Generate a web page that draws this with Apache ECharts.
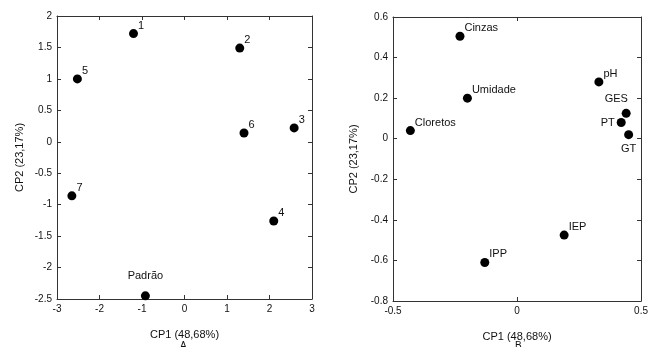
<!DOCTYPE html>
<html>
<head>
<meta charset="utf-8">
<script src="https://cdn.jsdelivr.net/npm/echarts@6/dist/echarts.min.js"></script>
<style>
  html, body { margin: 0; padding: 0; background: #fff; }
  #chart { width: 651px; height: 347px; }
</style>
</head>
<body>
<div id="chart"></div>
<script>
// panel A: samples
const sampleNames = ["1", "2", "3", "4", "5", "6", "7", "Padrão"];
const sampleCP1 = [-1.2, 1.3, 2.58, 2.1, -2.52, 1.4, -2.65, -0.92];
const sampleCP2 = [1.72, 1.49, 0.22, -1.26, 1.0, 0.14, -0.86, -2.45];

// panel B: variables
const varNames = ["Cinzas", "pH", "Umidade", "GES", "PT", "Cloretos", "GT", "IEP", "IPP"];
const varCP1 = [-0.23, 0.33, -0.2, 0.44, 0.42, -0.43, 0.45, 0.19, -0.13];
const varCP2 = [0.505, 0.28, 0.2, 0.125, 0.08, 0.04, 0.02, -0.475, -0.61];

const xTitle = "CP1 (48,68%)";
const yTitle = "CP2 (23,17%)";

const font = "Liberation Sans, Arial, sans-serif";
const ink = "#111";

// where each label sits relative to its dot
const labelSpot = {
  "Padrão": { position: "top", distance: 10 },
  "GES": { position: [-17, -15] },
  "PT": { position: "left", distance: 2 },
  "GT": { position: "bottom", distance: 4 },
};

function points(xs, ys, names) {
  return names.map((name, i) => {
    const spot = labelSpot[name] || { position: [9, -9] };
    return { name, value: [xs[i], ys[i]], label: Object.assign({}, spot) };
  });
}

function axisPair(gridIndex, dim, min, max, interval, title, gap) {
  const main = {
    gridIndex, min, max, interval,
    position: dim === "x" ? "bottom" : "left",
    name: title, nameLocation: "middle", nameGap: gap,
    nameTextStyle: { color: ink, fontFamily: font, fontSize: 11 },
    axisLine: { show: true, onZero: false, lineStyle: { color: "#333", width: 1 } },
    axisTick: { show: true, inside: true, length: 4, lineStyle: { color: "#333" } },
    axisLabel: { color: ink, fontFamily: font, fontSize: 10, margin: 5 },
    splitLine: { show: false },
  };
  const mirror = {
    gridIndex, min, max, interval,
    position: dim === "x" ? "top" : "right",
    axisLine: { show: true, onZero: false, lineStyle: { color: "#333", width: 1 } },
    axisTick: { show: true, inside: true, length: 4, lineStyle: { color: "#333" } },
    axisLabel: { show: false },
    splitLine: { show: false },
  };
  return [main, mirror];
}

const chart = echarts.init(document.getElementById("chart"), null, { renderer: "canvas" });

const xA = axisPair(0, "x", -3, 3, 1, xTitle, 30);
const yA = axisPair(0, "y", -2.5, 2, 0.5, yTitle, 32);
const xB = axisPair(1, "x", -0.5, 0.5, 0.5, xTitle, 30);
const yB = axisPair(1, "y", -0.8, 0.6, 0.2, yTitle, 34);

const dotStyle = {
  type: "scatter",
  symbolSize: 9,
  itemStyle: { color: "#000", opacity: 1 },
  label: { show: true, formatter: "{b}", color: ink, fontFamily: font, fontSize: 11 },
};

chart.setOption({
  animation: false,
  grid: [
    { left: 57, right: 339, top: 16, bottom: 48 },
    { left: 393, right: 5, top: 17, bottom: 45 },
  ],
  xAxis: [...xA, ...xB],
  yAxis: [...yA, ...yB],
  graphic: [
    { type: "text", left: 180, top: 341, style: { text: "A", font: "10px " + font, fill: ink } },
    { type: "text", left: 515, top: 341, style: { text: "B", font: "10px " + font, fill: ink } },
  ],
  series: [
    Object.assign({}, dotStyle, { xAxisIndex: 0, yAxisIndex: 0, data: points(sampleCP1, sampleCP2, sampleNames) }),
    Object.assign({}, dotStyle, { xAxisIndex: 2, yAxisIndex: 2, data: points(varCP1, varCP2, varNames) }),
  ],
});
</script>
</body>
</html>
